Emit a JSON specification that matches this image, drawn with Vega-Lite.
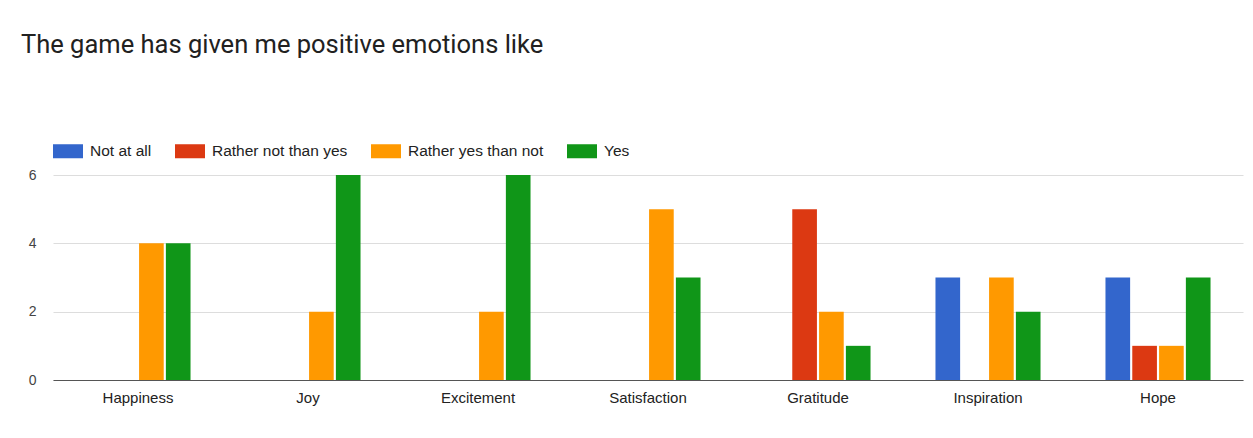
{
  "$schema": "https://vega.github.io/schema/vega-lite/v6.json",
  "autosize": "none",
  "width": 1190,
  "height": 205,
  "padding": {"top": 175, "left": 53, "right": 10, "bottom": 58},
  "background": "white",
  "title": {
    "text": "The game has given me positive emotions like",
    "anchor": "start",
    "frame": "group",
    "dx": -32,
    "offset": 58,
    "baseline": "alphabetic",
    "font": "Roboto",
    "fontSize": 25.5,
    "fontWeight": "normal",
    "color": "#212121"
  },
  "data": {
    "values": [
      {"emotion": "Happiness", "answer": "Not at all", "count": 0},
      {"emotion": "Happiness", "answer": "Rather not than yes", "count": 0},
      {"emotion": "Happiness", "answer": "Rather yes than not", "count": 4},
      {"emotion": "Happiness", "answer": "Yes", "count": 4},
      {"emotion": "Joy", "answer": "Not at all", "count": 0},
      {"emotion": "Joy", "answer": "Rather not than yes", "count": 0},
      {"emotion": "Joy", "answer": "Rather yes than not", "count": 2},
      {"emotion": "Joy", "answer": "Yes", "count": 6},
      {"emotion": "Excitement", "answer": "Not at all", "count": 0},
      {"emotion": "Excitement", "answer": "Rather not than yes", "count": 0},
      {"emotion": "Excitement", "answer": "Rather yes than not", "count": 2},
      {"emotion": "Excitement", "answer": "Yes", "count": 6},
      {"emotion": "Satisfaction", "answer": "Not at all", "count": 0},
      {"emotion": "Satisfaction", "answer": "Rather not than yes", "count": 0},
      {"emotion": "Satisfaction", "answer": "Rather yes than not", "count": 5},
      {"emotion": "Satisfaction", "answer": "Yes", "count": 3},
      {"emotion": "Gratitude", "answer": "Not at all", "count": 0},
      {"emotion": "Gratitude", "answer": "Rather not than yes", "count": 5},
      {"emotion": "Gratitude", "answer": "Rather yes than not", "count": 2},
      {"emotion": "Gratitude", "answer": "Yes", "count": 1},
      {"emotion": "Inspiration", "answer": "Not at all", "count": 3},
      {"emotion": "Inspiration", "answer": "Rather not than yes", "count": 0},
      {"emotion": "Inspiration", "answer": "Rather yes than not", "count": 3},
      {"emotion": "Inspiration", "answer": "Yes", "count": 2},
      {"emotion": "Hope", "answer": "Not at all", "count": 3},
      {"emotion": "Hope", "answer": "Rather not than yes", "count": 1},
      {"emotion": "Hope", "answer": "Rather yes than not", "count": 1},
      {"emotion": "Hope", "answer": "Yes", "count": 3}
    ]
  },
  "mark": {"type": "bar"},
  "encoding": {
    "x": {
      "field": "emotion",
      "type": "nominal",
      "sort": ["Happiness", "Joy", "Excitement", "Satisfaction", "Gratitude", "Inspiration", "Hope"],
      "scale": {"paddingInner": 0.382, "paddingOuter": 0.191},
      "axis": {
        "title": null,
        "labelAngle": 0,
        "ticks": false,
        "domain": true,
        "domainColor": "#555555",
        "domainWidth": 1,
        "labelFont": "Liberation Sans",
        "labelFontSize": 15,
        "labelColor": "#222222",
        "labelPadding": 10,
        "grid": false
      }
    },
    "xOffset": {
      "field": "answer",
      "type": "nominal",
      "sort": ["Not at all", "Rather not than yes", "Rather yes than not", "Yes"],
      "scale": {"paddingInner": 0.08, "paddingOuter": 0}
    },
    "y": {
      "field": "count",
      "type": "quantitative",
      "scale": {"domain": [0, 6], "nice": false},
      "axis": {
        "title": null,
        "values": [0, 2, 4, 6],
        "ticks": false,
        "domain": false,
        "grid": true,
        "gridColor": "#dddddd",
        "gridWidth": 1,
        "labelFont": "Liberation Sans",
        "labelFontSize": 14,
        "labelColor": "#444444",
        "labelPadding": 17
      }
    },
    "color": {
      "field": "answer",
      "type": "nominal",
      "sort": ["Not at all", "Rather not than yes", "Rather yes than not", "Yes"],
      "scale": {
        "domain": ["Not at all", "Rather not than yes", "Rather yes than not", "Yes"],
        "range": ["#3366CC", "#DC3912", "#FF9900", "#109618"]
      },
      "legend": {
        "title": null,
        "orient": "none",
        "legendX": 0,
        "legendY": -39,
        "direction": "horizontal",
        "symbolType": "M-1,-0.467H1V0.467H-1Z",
        "symbolSize": 900,
        "symbolStrokeWidth": 0,
        "symbolOpacity": 1,
        "labelFont": "Liberation Sans",
        "labelFontSize": 15.5,
        "labelColor": "#222222",
        "labelOffset": 7,
        "columnPadding": 23
      }
    }
  },
  "config": {
    "view": {"stroke": null}
  }
}
